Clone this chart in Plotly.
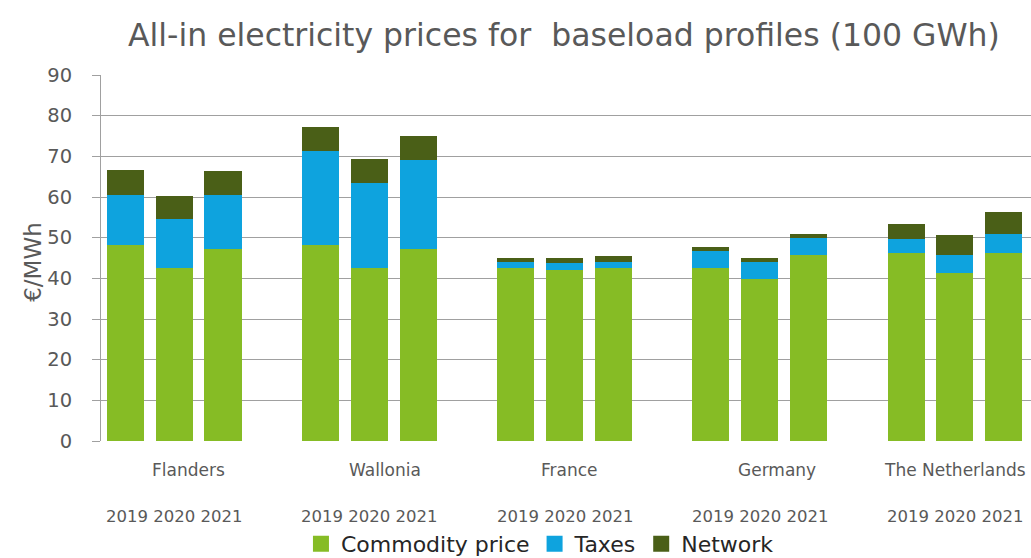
import plotly.graph_objects as go

# Regions and years shown on the category axis
regions = ["Flanders", "Wallonia", "France", "Germany", "The Netherlands"]
years = ["2019", "2020", "2021"]

# Price components in €/MWh, one value per region and year
commodity = [48.2, 42.5, 47.3,
             48.2, 42.5, 47.3,
             42.5, 42.0, 42.6,
             42.6, 39.8, 45.7,
             46.3, 41.4, 46.3]
taxes = [12.4, 12.2, 13.2,
         23.1, 21.0, 21.8,
         1.4, 1.7, 1.3,
         4.1, 4.1, 4.2,
         3.3, 4.4, 4.7]
network = [6.1, 5.6, 6.0,
           6.0, 5.9, 5.8,
           1.2, 1.2, 1.5,
           1.0, 1.0, 1.1,
           3.7, 4.9, 5.2]

y_ticks = [0, 10, 20, 30, 40, 50, 60, 70, 80, 90]

# Each region takes four slots on the axis: three bars and an empty gap
SLOTS = 4
xpos = [g * SLOTS + k for g in range(len(regions)) for k in range(len(years))]
group_centres = [g * SLOTS + 1 for g in range(len(regions))]
# Region names sit slightly right of the group centre
name_shift = [0.30, 0.32, 0.11, 0.35, 0.0]

FONT = "DejaVu Sans"
GREY = "#595959"

fig = go.Figure()
series = [("Commodity price", commodity, "#86BC25"),
          ("Taxes", taxes, "#0EA3DE"),
          ("Network", network, "#4A5F17")]
for name, vals, col in series:
    fig.add_trace(go.Bar(x=xpos, y=vals, name=name, width=0.76, showlegend=False,
                         marker=dict(color=col, line=dict(width=0))))
# Legend entries with larger square swatches
for name, vals, col in series:
    fig.add_trace(go.Scatter(x=[None], y=[None], mode="markers", name=name,
                             marker=dict(symbol="square", size=19, color=col)))

annotations = []
for g, c in enumerate(group_centres):
    annotations.append(dict(x=c + name_shift[g], y=-0.079, xref="x", yref="paper",
                            text=regions[g], showarrow=False,
                            font=dict(family=FONT, size=17, color=GREY),
                            xanchor="center", yanchor="middle"))
    annotations.append(dict(x=c, y=-0.205, xref="x", yref="paper",
                            text=" ".join(years), showarrow=False,
                            font=dict(family=FONT, size=16.5, color=GREY),
                            xanchor="center", yanchor="middle"))
annotations.append(dict(x=-0.073, y=0.49, xref="paper", yref="paper",
                        text="€/MWh", textangle=-90, showarrow=False,
                        font=dict(family=FONT, size=23, color=GREY),
                        xanchor="center", yanchor="middle"))

fig.update_layout(
    barmode="stack",
    width=1031, height=558,
    margin=dict(l=101, r=0, t=75, b=117, autoexpand=False),
    paper_bgcolor="white", plot_bgcolor="white",
    title=dict(text="All-in electricity prices for&nbsp; baseload profiles (100 GWh)",
               x=0.547, xanchor="center", y=0.937, yanchor="middle",
               font=dict(family=FONT, size=31.5, color=GREY)),
    showlegend=True,
    legend=dict(orientation="h", x=0.472, xanchor="center", y=-0.281, yanchor="middle",
                font=dict(family=FONT, size=22, color="#262626"),
                traceorder="normal", bgcolor="rgba(0,0,0,0)"),
    xaxis=dict(range=[-0.5, 18.56], showticklabels=False, showgrid=False,
               zeroline=False, showline=False, ticks=""),
    yaxis=dict(range=[0, 90], tickvals=y_ticks, showgrid=True, gridcolor="#A0A0A0",
               gridwidth=1, zeroline=False, showline=True, linecolor="#A0A0A0",
               linewidth=1, ticks="outside", ticklen=8, tickcolor="#A0A0A0",
               ticklabelstandoff=16,
               tickfont=dict(family=FONT, size=19.5, color=GREY)),
    annotations=annotations,
    bargap=0,
)

fig.write_html("out.html")
